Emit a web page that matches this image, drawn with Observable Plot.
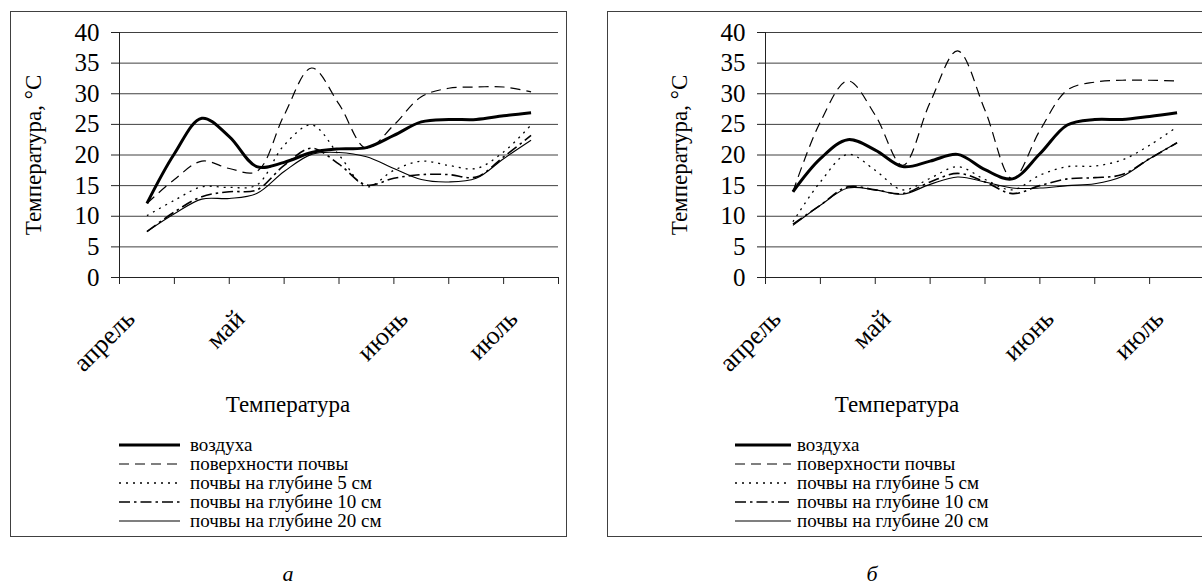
<!DOCTYPE html>
<html>
<head>
<meta charset="utf-8">
<script src="https://cdn.jsdelivr.net/npm/d3@7"></script>
<script src="https://cdn.jsdelivr.net/npm/@observablehq/plot@0.6"></script>
<style>
  html, body { margin: 0; padding: 0; background: #fff; }
  body { width: 1202px; height: 586px; overflow: hidden; position: relative; color: #000;
         font-family: 'Liberation Serif', serif; }
  .box { position: absolute; top: 11px; height: 526px; border: 1.5px solid #404040; box-sizing: border-box; }
  .chart { position: absolute; }
  .xtitle { position: absolute; font-family: 'Liberation Serif', serif; font-size: 23px; line-height: 24px;
            white-space: nowrap; transform: translateX(-50%); }
  .legend { position: absolute; font-family: 'Liberation Serif', serif; font-size: 19px; }
  .legend .row { position: absolute; left: 0; height: 19px; line-height: 19px; white-space: nowrap; }
  .legend .row svg { position: absolute; left: 0; top: 4.5px; }
  .legend .row span { position: absolute; top: 0; }
  .caption { position: absolute; top: 563px; font-family: 'Liberation Serif', serif; font-size: 22px;
             line-height: 22px; font-style: italic; transform: translateX(-50%); }
</style>
</head>
<body>
<div class="box" style="left:10px; width:557px"></div>
<div class="box" style="left:607px; width:640px"></div>
<div class="caption" style="left:288px">а</div>
<div class="caption" style="left:872px">б</div>
<script>
// ten-day periods from April to July
const periods = [1, 2, 3, 4, 5, 6, 7, 8, 9, 10, 11, 12, 13, 14, 15];
const periodTicks = [0, 2, 4, 6, 8, 10, 12, 14, 16];
const monthNames = ["апрель", "май", "июнь", "июль"];
const monthAt = [0.4, 4.4, 10.35, 14.35];
const yTicks = [0, 5, 10, 15, 20, 25, 30, 35, 40];
const seriesNames = ["воздуха", "поверхности почвы", "почвы на глубине 5 см", "почвы на глубине 10 см", "почвы на глубине 20 см"];

// panel а, °C
const airA     = [12.1, 20.2, 26.0, 23.0, 18.1, 18.8, 20.4, 21.0, 21.2, 23.2, 25.4, 25.8, 25.8, 26.4, 26.9];
const surfaceA = [12.1, 16.0, 19.0, 17.8, 17.3, 26.5, 34.2, 28.3, 21.1, 24.9, 29.5, 30.9, 31.1, 31.1, 30.3];
const soil5A   = [10.1, 12.6, 14.8, 14.7, 15.1, 21.6, 24.9, 20.0, 14.8, 17.5, 19.0, 18.3, 17.8, 20.5, 24.9];
const soil10A  = [7.5, 10.7, 13.2, 14.0, 14.3, 18.3, 21.1, 18.5, 15.1, 16.2, 16.8, 16.8, 16.4, 19.7, 23.2];
const soil20A  = [7.5, 10.4, 12.8, 12.9, 13.7, 17.3, 20.1, 20.4, 19.7, 17.8, 16.0, 15.6, 16.2, 19.4, 22.4];

// panel б, °C
const airB     = [14.0, 19.4, 22.5, 20.8, 18.1, 19.0, 20.1, 17.6, 16.1, 20.2, 24.9, 25.8, 25.8, 26.3, 26.9];
const surfaceB = [14.0, 25.4, 32.1, 26.5, 18.3, 28.6, 37.0, 27.3, 16.1, 24.0, 30.6, 31.9, 32.2, 32.2, 32.1];
const soil5B   = [9.1, 15.6, 20.1, 17.5, 14.3, 16.2, 18.1, 16.0, 14.3, 16.7, 18.1, 18.2, 19.2, 21.6, 24.6];
const soil10B  = [8.7, 11.8, 14.8, 14.3, 13.7, 15.6, 17.0, 15.6, 13.7, 15.0, 16.1, 16.3, 16.8, 19.4, 22.0];
const soil20B  = [8.5, 11.8, 14.6, 14.3, 13.6, 15.2, 16.4, 15.6, 14.6, 14.6, 15.0, 15.3, 16.5, 19.4, 22.0];

// line look for each series, in legend order
const lineStyles = [
  {strokeWidth: 3, dash: null},
  {strokeWidth: 1.2, dash: "10,6"},
  {strokeWidth: 1.3, dash: "2,5"},
  {strokeWidth: 1.6, dash: "11,4,2.5,4"},
  {strokeWidth: 1.1, dash: null}
];

const FONT = "'Liberation Serif', serif";

// one framed chart; layout gives page positions of the plot's left edge, titles and legend
function drawPanel(seriesValues, layout) {
  const mL = 100, mT = 20, mB = 110, mR = 10;
  const lines = seriesValues.map((vals, s) => {
    const rows = periods.map((p, i) => ({period: p, value: vals[i]}));
    const st = lineStyles[s];
    return Plot.line(rows, {
      x: "period", y: "value", curve: "catmull-rom",
      stroke: "#000", strokeWidth: st.strokeWidth,
      strokeDasharray: st.dash || undefined,
      strokeLinecap: "butt", strokeLinejoin: "round"
    });
  });

  const chart = Plot.plot({
    width: mL + 439 + mR, height: mT + 245 + mB,
    marginLeft: mL, marginRight: mR, marginTop: mT, marginBottom: mB,
    x: {type: "linear", domain: [0, 16]},
    y: {domain: [0, 40]},
    style: {fontFamily: FONT, color: "#000", background: "transparent", overflow: "visible"},
    marks: [
      Plot.gridY(yTicks.slice(1), {stroke: "#404040", strokeOpacity: 1, strokeWidth: 1}),
      Plot.ruleY([0], {stroke: "#222", strokeWidth: 1}),
      Plot.ruleX([0], {y1: 0, y2: 40, stroke: "#222", strokeWidth: 1}),
      Plot.axisY({ticks: yTicks, tickSize: 8, tickPadding: 12, fontSize: 25, fontFamily: FONT, label: null, stroke: "#222"}),
      Plot.axisX({ticks: periodTicks, tickSize: 7, tickFormat: () => "", label: null, stroke: "#222"}),
      Plot.axisX({ticks: monthAt, tickSize: 0, tickPadding: 37, tickRotate: -45, fontFamily: FONT,
                  tickFormat: d => monthNames[monthAt.indexOf(d)], fontSize: 26, label: null}),
      Plot.text(["Температура, °С"], {frameAnchor: "left", rotate: -90, dx: -86, fontSize: 23, fontFamily: FONT,
                                     textAnchor: "middle", lineAnchor: "middle"}),
      ...lines
    ]
  });
  chart.classList.add("chart");
  chart.style.left = (layout.axisLeft - mL) + "px";
  chart.style.top = (32.3 - mT) + "px";
  document.body.appendChild(chart);

  const title = document.createElement("div");
  title.className = "xtitle";
  title.style.left = layout.titleX + "px";
  title.style.top = "393px";
  title.textContent = "Температура";
  document.body.appendChild(title);

  const legend = document.createElement("div");
  legend.className = "legend";
  legend.style.left = layout.legendX + "px";
  legend.style.top = "435px";
  seriesNames.forEach((name, s) => {
    const st = lineStyles[s];
    const row = document.createElement("div");
    row.className = "row";
    row.style.top = (19 * s) + "px";
    const sample = d3.create("svg").attr("width", layout.sampleLen).attr("height", 10);
    sample.append("line").attr("x1", 0).attr("x2", layout.sampleLen).attr("y1", 5).attr("y2", 5)
      .attr("stroke", "#000").attr("stroke-width", st.strokeWidth)
      .attr("stroke-dasharray", st.dash);
    row.appendChild(sample.node());
    const label = document.createElement("span");
    label.style.left = layout.textOffset + "px";
    label.textContent = name;
    row.appendChild(label);
    legend.appendChild(row);
  });
  document.body.appendChild(legend);
}

drawPanel([airA, surfaceA, soil5A, soil10A, soil20A],
  {axisLeft: 119, titleX: 288, legendX: 119, sampleLen: 61, textOffset: 71});
drawPanel([airB, surfaceB, soil5B, soil10B, soil20B],
  {axisLeft: 765, titleX: 897, legendX: 735, sampleLen: 56, textOffset: 62});
</script>
</body>
</html>
